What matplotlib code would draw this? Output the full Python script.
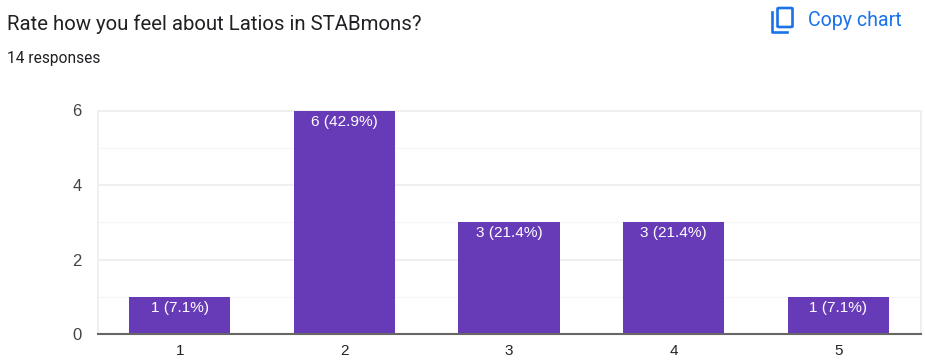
import matplotlib
matplotlib.use('Agg')
import matplotlib.pyplot as plt
from matplotlib.patches import FancyBboxPatch

# Chart data
categories = ['1', '2', '3', '4', '5']
counts = [1, 6, 3, 3, 1]
percents = ['7.1', '42.9', '21.4', '21.4', '7.1']
major_ticks = [0, 2, 4, 6]
minor_ticks = [1, 3, 5]

title = 'Rate how you feel about Latios in STABmons?'
subtitle = '14 responses'
button = 'Copy chart'

# Plot configuration
W, H = 925, 360
purple = '#673ab7'
blue = '#1a73e8'
plt.rcParams['font.family'] = ['Liberation Sans', 'DejaVu Sans']

fig = plt.figure(figsize=(W/100, H/100), dpi=100, facecolor='white')
ax = fig.add_axes([97.5/W, 1 - 334/H, (920.5 - 97.5)/W, (334 - 110.5)/H])

x = range(len(categories))
ax.bar(x, counts, width=0.615, color=purple, zorder=3)
for i, c in enumerate(counts):
    ax.annotate(f'{c} ({percents[i]}%)', (i, c), xytext=(0, -3), textcoords='offset points',
                ha='center', va='top', color='white', fontsize=11.1, zorder=4)

ax.set_xlim(-0.5, 4.5)
ax.set_ylim(0, 6)
ax.set_xticks(list(x), categories)
ax.set_yticks(major_ticks)
ax.set_yticks(minor_ticks, minor=True)
ax.tick_params(axis='both', which='both', length=0)
ax.tick_params(axis='y', which='major', pad=11.5, labelsize=12, labelcolor='#444444')
ax.tick_params(axis='x', pad=7.5, labelsize=11, labelcolor='#222222')
ax.grid(True, axis='y', which='major', color='#efefef', linewidth=1.4, zorder=0)
ax.grid(True, axis='y', which='minor', color='#f6f6f6', linewidth=1, zorder=0)
for side in ['top', 'left', 'right']:
    ax.spines[side].set_color('#efefef')
    ax.spines[side].set_linewidth(1.4)
ax.spines['bottom'].set_color('#666666')
ax.spines['bottom'].set_linewidth(1.5)
ax.spines['bottom'].set_zorder(5)

# Header text
fig.text(7/W, 1 - 24.5/H, title, fontsize=14.7, color='#202124', va='center', ha='left',
         family=['Roboto', 'DejaVu Sans'])
fig.text(7/W, 1 - 58/H, subtitle, fontsize=11.2, color='#202124', va='center', ha='left',
         family=['Roboto', 'DejaVu Sans'])
fig.text(808/W, 1 - 20.5/H, button, fontsize=14.1, color=blue, va='center', ha='left',
         family=['Roboto', 'DejaVu Sans'])

# Copy icon
fig.add_artist(FancyBboxPatch((777.5/W, 1 - 27/H), 15/W, 19/H, boxstyle='round,pad=0,rounding_size=0.002',
                              fill=False, edgecolor=blue, linewidth=1.9, transform=fig.transFigure))
fig.add_artist(plt.Line2D([772/W, 772/W, 787/W], [1 - 12/H, 1 - 31.5/H, 1 - 31.5/H], color=blue,
                          linewidth=1.9, transform=fig.transFigure))

fig.savefig('out.png', dpi=100)
